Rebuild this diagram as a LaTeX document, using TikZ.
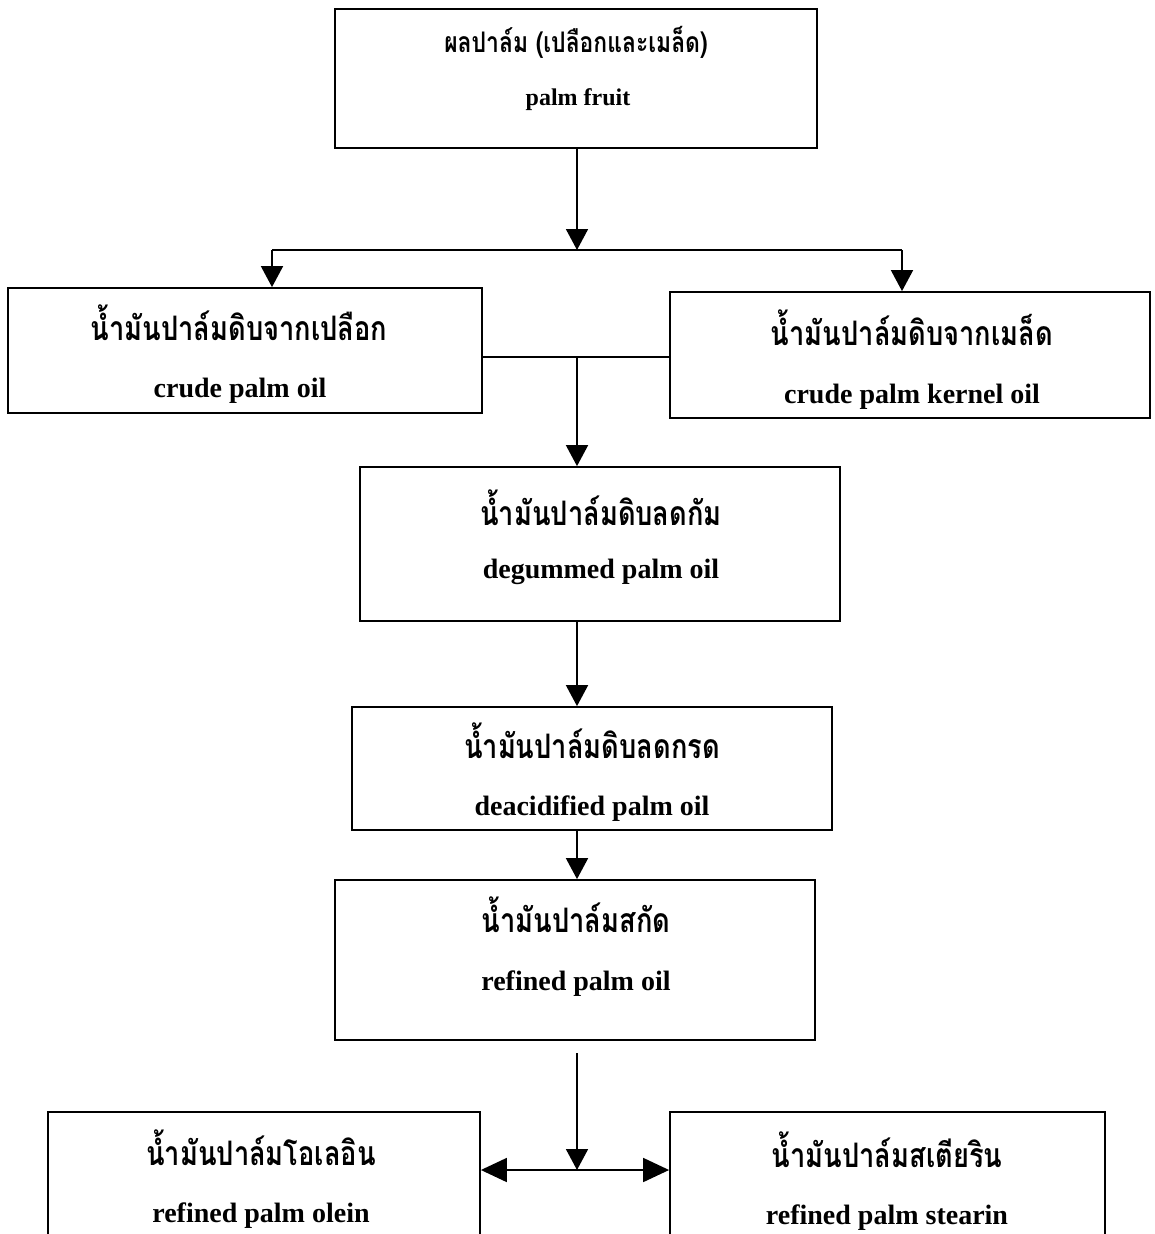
\documentclass[tikz,border=0pt]{standalone}
\usepackage{fontspec}
\setmainfont{Liberation Serif}
\newfontfamily\thaifont[Script=Thai]{Loma}
\usetikzlibrary{arrows.meta}
% Thai labels are set tall
\newcommand{\tallthai}[1]{\scalebox{1.09}[1.35]{#1}}
\begin{document}
\begin{tikzpicture}[x=1pt,y=-1pt,
  box/.style={draw, line width=1.8pt, rectangle, inner sep=0pt},
  thaitext/.style={font=\thaifont\bfseries\fontsize{25}{30}\selectfont, anchor=base, inner sep=0pt},
  engtext/.style={font=\bfseries\fontsize{28}{30}\selectfont, anchor=base, inner sep=0pt},
  flow/.style={line width=1.8pt},
  arr/.style={flow, -{Triangle[length=21pt,width=22pt]}},
  arrboth/.style={flow, {Triangle[length=26pt,width=24pt]}-{Triangle[length=26pt,width=24pt]}}]
\useasboundingbox (0,0) rectangle (1155,1234);
\clip (0,0) rectangle (1155,1234);
\fill[white] (0,0) rectangle (1155,1234);

% process boxes
\node[box, minimum width=482pt, minimum height=139pt] (a) at (576,78.5) {};
\node[box, minimum width=474pt, minimum height=125pt] (b) at (245,350.5) {};
\node[box, minimum width=480pt, minimum height=126pt] (c) at (910,355) {};
\node[box, minimum width=480pt, minimum height=154pt] (d) at (600,544) {};
\node[box, minimum width=480pt, minimum height=123pt] (e) at (592,768.5) {};
\node[box, minimum width=480pt, minimum height=160pt] (f) at (575,960) {};
\node[box, minimum width=432pt, minimum height=188pt] (g) at (264,1206) {};
\node[box, minimum width=435pt, minimum height=188pt] (h) at (887.5,1206) {};

% labels
\node[thaitext, font=\thaifont\bfseries\fontsize{21}{28}\selectfont] (a1) at (576,52) {\tallthai{ผลปาล์ม (เปลือกและเมล็ด)}};
\node[engtext, font=\bfseries\fontsize{24}{28}\selectfont] (a2) at (578,105) {palm fruit};
\node[thaitext] (b1) at (239,340) {\tallthai{น้ำมันปาล์มดิบจากเปลือก}};
\node[engtext] (b2) at (240,397) {crude palm oil};
\node[thaitext] (c1) at (912,345) {\tallthai{น้ำมันปาล์มดิบจากเมล็ด}};
\node[engtext] (c2) at (912,403) {crude palm kernel oil};
\node[thaitext] (d1) at (601,525) {\tallthai{น้ำมันปาล์มดิบลดกัม}};
\node[engtext] (d2) at (601,578) {degummed palm oil};
\node[thaitext] (e1) at (592,758) {\tallthai{น้ำมันปาล์มดิบลดกรด}};
\node[engtext] (e2) at (592,815) {deacidified palm oil};
\node[thaitext] (f1) at (576,932) {\tallthai{น้ำมันปาล์มสกัด}};
\node[engtext] (f2) at (576,990) {refined palm oil};
\node[thaitext] (g1) at (261,1165) {\tallthai{น้ำมันปาล์มโอเลอิน}};
\node[engtext] (g2) at (261,1222) {refined palm olein};
\node[thaitext] (h1) at (887,1167) {\tallthai{น้ำมันปาล์มสเตียริน}};
\node[engtext] (h2) at (887,1224) {refined palm stearin};

% junction points
\coordinate (j) at (577,250);
\coordinate (jl) at (272,250);
\coordinate (jr) at (902,250);
\coordinate (m) at (577,357);
\coordinate (fs) at (577,1053);
\coordinate (s) at (577,1170);

% connectors
\draw[arr] (a.south -| j) -- (j);
\draw[flow] (jl) -- (jr);
\draw[arr] (jl) -- (jl |- b.north);
\draw[arr] (jr) -- (jr |- c.north);
\draw[flow] (b.east |- m) -- (c.west |- m);
\draw[arr] (m) -- (d.north -| m);
\draw[arr] (d.south -| m) -- (e.north -| m);
\draw[arr] (e.south -| m) -- (f.north -| m);
\draw[arr] (fs) -- (s);
\draw[arrboth] (g.east |- s) -- (h.west |- s);
\end{tikzpicture}
\end{document}
